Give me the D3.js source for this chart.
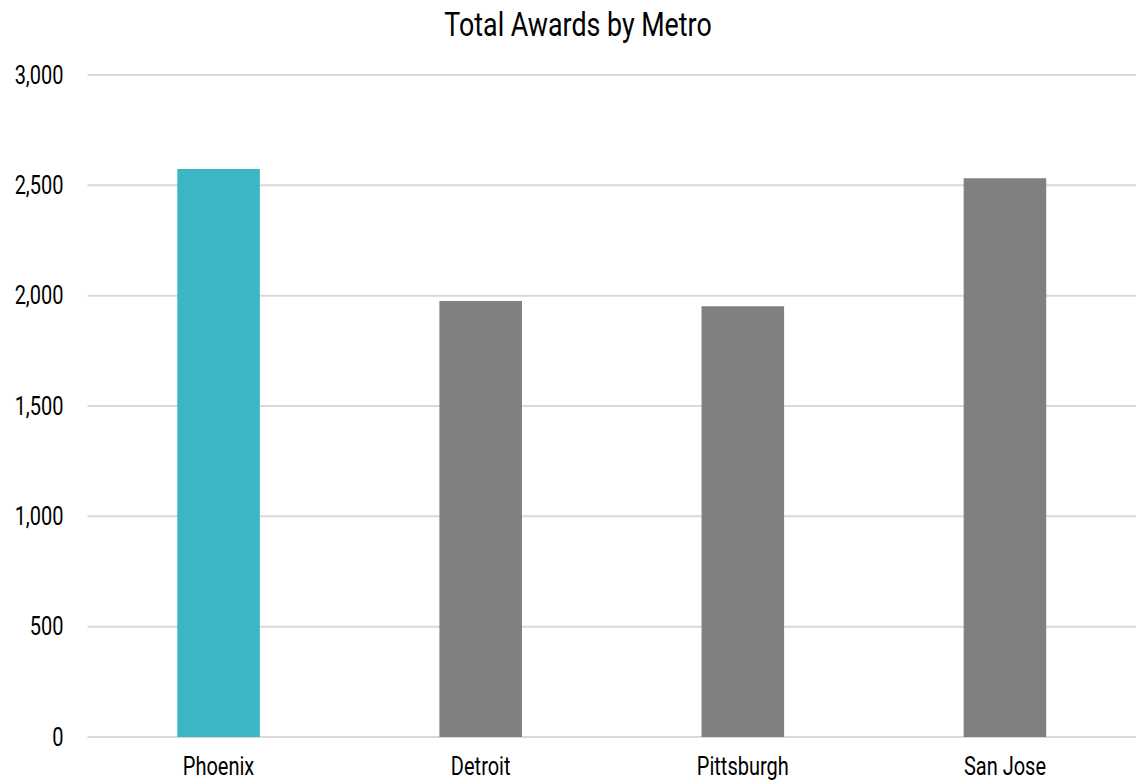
<!DOCTYPE html>
<html>
<head>
<meta charset="utf-8">
<script src="https://cdn.jsdelivr.net/npm/d3@7"></script>
<style>
  body { margin: 0; background: #fff; }
  svg text { font-family: Roboto, "Liberation Sans", sans-serif; fill: #000; }
</style>
</head>
<body>
<svg id="chart"></svg>
<script>
var metros = ["Phoenix", "Detroit", "Pittsburgh", "San Jose"];
var awards = [2574, 1976, 1952, 2532];
var barColors = ["#3cb6c4", "#808080", "#808080", "#808080"];
var yTicks = [0, 500, 1000, 1500, 2000, 2500, 3000];

var data = metros.map(function (m, i) {
    return { metro: m, value: awards[i], color: barColors[i] };
});

var WIDTH = 1137, HEIGHT = 783;
var margin = { top: 75, right: 1, bottom: 46, left: 87.5 },
    width = WIDTH - margin.left - margin.right,
    height = HEIGHT - margin.top - margin.bottom;

var SX = 0.8; // horizontal squeeze to mimic the condensed face

// squeeze text horizontally, keeping its anchor point
function squeeze(sel) {
    sel.each(function () {
        var t = d3.select(this);
        var xv = +t.attr("x") || 0;
        t.attr("x", xv / SX).attr("transform", "scale(" + SX + ",1)");
    });
}

var svg = d3.select("#chart")
    .attr("width", WIDTH)
    .attr("height", HEIGHT);

// title
svg.append("g")
    .attr("transform", "translate(578,36)")
    .append("text")
    .attr("text-anchor", "middle")
    .style("font-size", "33.5px")
    .text("Total Awards by Metro")
    .call(squeeze);

var g = svg.append("g")
    .attr("transform", "translate(" + margin.left + "," + margin.top + ")");

var x = d3.scaleBand().range([0, width]).domain(metros).padding(0);
var y = d3.scaleLinear().range([height, 0]).domain([0, 3000]);

// gridlines
g.selectAll("line.grid")
    .data(yTicks)
    .enter().append("line")
    .attr("class", "grid")
    .attr("x1", 0)
    .attr("x2", width)
    .attr("y1", function (d) { return y(d); })
    .attr("y2", function (d) { return y(d); })
    .attr("stroke", "#d9d9d9")
    .attr("stroke-width", 2);

// y axis labels
var yAxis = d3.axisLeft(y)
    .tickValues(yTicks)
    .tickSize(0)
    .tickPadding(24)
    .tickFormat(d3.format(","));

g.append("g")
    .call(yAxis)
    .call(function (a) { a.select(".domain").remove(); })
    .selectAll("text")
    .style("font-size", "25px")
    .attr("font-family", null)
    .call(squeeze);

// bars
var barW = x.bandwidth() * 0.315;
g.selectAll("rect")
    .data(data)
    .enter().append("rect")
    .attr("x", function (d) { return x(d.metro) + (x.bandwidth() - barW) / 2; })
    .attr("y", function (d) { return y(d.value); })
    .attr("width", barW)
    .attr("height", function (d) { return height - y(d.value); })
    .attr("fill", function (d) { return d.color; });

// x axis labels
var xAxis = d3.axisBottom(x).tickSize(0).tickPadding(20);
g.append("g")
    .attr("transform", "translate(0," + height + ")")
    .call(xAxis)
    .call(function (a) { a.select(".domain").remove(); })
    .selectAll("text")
    .style("font-size", "25px")
    .attr("font-family", null)
    .call(squeeze);
</script>
</body>
</html>
